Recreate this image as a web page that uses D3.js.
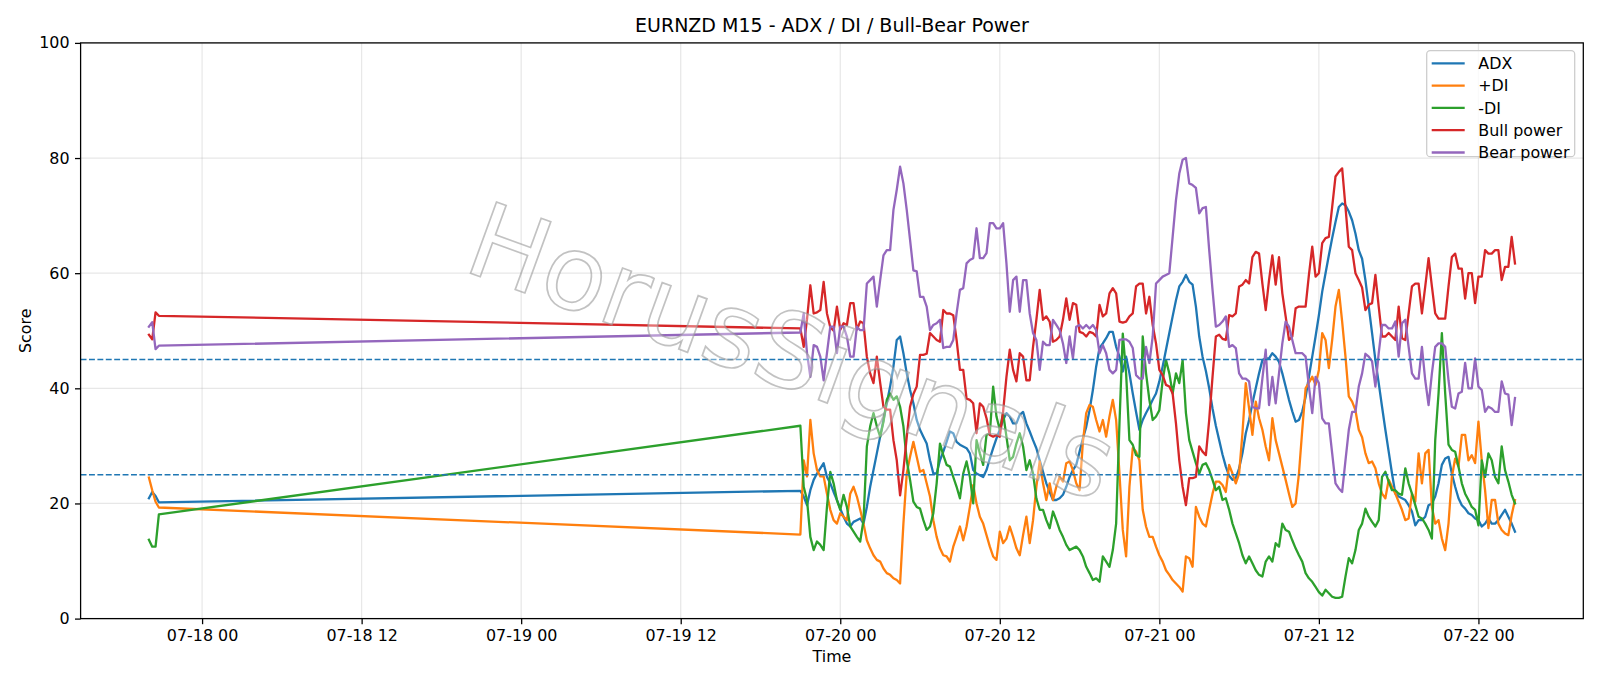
<!DOCTYPE html>
<html>
<head>
<meta charset="utf-8">
<script src="https://cdn.jsdelivr.net/npm/d3@7"></script>
<style>
  body { margin: 0; background: #fff; }
  text { font-family: "DejaVu Sans", sans-serif; }
</style>
</head>
<body>
<div id="chart"></div>
<script>
// M15 candles: Friday close, then Sunday open
const sessions = [
  { start: '2020-07-17T20:00:00Z', bars: 4 },
  { start: '2020-07-19T21:00:00Z', bars: 216 },
];

const adx = [
  20.9, 22.0, 21.3, 20.2,
  22.2, 21.2, 19.7, 22.3, 24.1, 25.2, 26.1, 27.0, 24.6, 23.5,
  22.0, 20.6, 19.1, 17.7, 16.5, 16.0, 16.8, 17.1, 17.4, 16.5,
  19.4, 22.9, 25.8, 28.7, 31.6, 34.5, 37.4, 40.3, 43.8, 48.4,
  49.0, 46.1, 42.6, 39.7, 37.4, 34.5, 32.8, 31.6, 30.4, 27.5,
  25.2, 25.2, 27.5, 29.0, 30.7, 32.5, 32.2, 30.7, 30.2, 29.9,
  29.6, 28.7, 25.8, 25.2, 24.9, 24.6, 25.8, 27.8, 29.6, 31.3,
  32.8, 34.5, 35.7, 35.1, 33.9, 33.9, 35.4, 35.9, 33.9, 32.5,
  31.0, 29.6, 27.5, 25.5, 23.5, 22.0, 20.6, 20.6, 20.9, 21.5,
  22.9, 24.6, 25.8, 26.7, 29.0, 31.3, 33.3, 36.2, 39.7, 43.8,
  47.0, 47.8, 48.7, 49.8, 49.8, 47.2, 45.5, 42.9, 45.5, 42.6,
  39.1, 35.9, 32.8, 34.5, 35.7, 36.8, 38.0, 39.1, 41.2, 43.8,
  46.7, 49.6, 52.5, 55.3, 57.7, 58.5, 59.7, 58.5, 58.0, 54.2,
  49.0, 45.5, 43.0, 40.0, 36.5, 33.5, 31.0, 28.5, 26.4, 24.8,
  24.1, 24.4, 26.1, 28.7, 32.2, 34.5, 37.4, 40.0, 42.6, 44.9,
  45.2, 45.2, 46.1, 45.5, 44.6, 42.6, 40.3, 38.0, 36.0, 34.2,
  34.5, 36.0, 38.5, 42.0, 45.5, 49.0, 52.7, 56.8, 60.0, 63.1,
  66.1, 68.9, 71.5, 72.1, 71.8, 70.7, 69.2, 66.9, 64.0, 62.5,
  58.8, 54.2, 49.6, 44.9, 40.9, 36.8, 32.8, 29.0, 25.2, 21.7,
  21.2, 20.9, 20.6, 19.7, 18.6, 16.2, 17.1, 17.1, 17.7, 19.7,
  20.0, 21.2, 23.5, 26.7, 27.8, 28.1, 25.2, 22.9, 20.9, 19.7,
  19.1, 18.3, 18.0, 17.4, 17.1, 16.0, 16.5, 17.4, 16.5, 16.5,
  17.1, 18.0, 18.9, 17.7, 16.5, 15.1,
];

const plusDi = [
  24.5, 22.3, 20.3, 19.3,
  14.6, 27.5, 24.7, 34.5, 28.7, 25.8, 24.7, 24.7, 21.7, 18.9,
  17.1, 16.5, 18.3, 17.7, 17.1, 21.7, 22.9, 21.2, 18.9, 16.5,
  13.6, 12.2, 11.0, 10.2, 9.9, 8.7, 7.9, 7.6, 7.0, 6.7,
  6.1, 16.5, 25.2, 28.1, 30.7, 28.1, 25.5, 25.8, 23.5, 21.2,
  17.1, 14.2, 12.2, 11.0, 10.8, 9.9, 12.5, 14.2, 16.0, 13.6,
  16.0, 19.4, 23.2, 20.0, 17.7, 16.5, 14.5, 12.5, 10.8, 10.2,
  15.1, 13.1, 13.9, 16.0, 14.2, 12.2, 11.0, 14.5, 17.7, 13.1,
  17.1, 22.9, 27.3, 23.5, 20.6, 23.5, 20.6, 22.9, 24.6, 23.8,
  27.0, 27.3, 25.8, 23.5, 22.3, 30.7, 35.7, 37.1, 36.8, 34.5,
  32.5, 34.5, 31.6, 35.1, 38.0, 34.5, 25.2, 15.4, 10.8, 22.9,
  29.6, 29.0, 27.5, 18.9, 16.0, 14.2, 14.2, 12.5, 11.0, 9.9,
  8.4, 7.6, 6.7, 6.1, 5.5, 4.7, 10.8, 10.5, 9.0, 19.4,
  17.7, 16.5, 16.0, 18.9, 21.7, 23.8, 23.8, 23.2, 22.0, 26.7,
  25.2, 23.5, 25.2, 32.2, 40.9, 36.5, 31.9, 37.7, 34.8, 32.8,
  29.9, 27.5, 34.8, 31.0, 28.7, 26.4, 24.1, 21.7, 19.4, 20.0,
  25.2, 32.8, 40.0, 41.0, 42.0, 40.6, 43.2, 49.6, 48.4, 43.5,
  48.4, 54.2, 57.1, 51.6, 45.5, 38.6, 37.7, 36.2, 32.8, 31.5,
  28.7, 27.0, 27.3, 26.1, 23.5, 21.7, 20.9, 24.1, 22.9, 21.7,
  20.3, 18.9, 17.1, 17.4, 21.7, 20.3, 28.7, 23.5, 28.7, 29.3,
  19.4, 16.5, 17.1, 13.9, 11.9, 16.5, 24.6, 27.8, 26.4, 31.9,
  31.9, 27.5, 28.4, 27.0, 34.2, 27.5, 22.3, 15.7, 20.6, 20.6,
  16.5, 15.4, 14.8, 14.5, 18.0, 20.6,
];

const minusDi = [
  13.7, 12.5, 12.5, 18.1,
  33.5, 22.9, 20.6, 14.2, 11.9, 13.4, 12.8, 11.9, 19.4, 25.5,
  23.5, 20.6, 18.9, 21.5, 19.4, 16.0, 15.1, 14.2, 13.4, 17.1,
  29.9, 33.4, 35.7, 33.4, 31.6, 34.2, 38.0, 39.1, 38.0, 38.6,
  36.8, 33.4, 27.5, 24.1, 20.3, 19.4, 19.1, 17.1, 15.4, 16.0,
  18.3, 23.5, 30.4, 28.4, 26.7, 26.4, 24.6, 22.9, 20.9, 25.2,
  27.3, 24.6, 20.0, 31.0, 28.7, 26.7, 31.9, 32.2, 40.3, 35.1,
  32.8, 35.7, 31.6, 27.5, 28.1, 30.4, 32.2, 29.9, 25.8, 27.5,
  25.2, 20.9, 18.9, 18.9, 17.1, 15.7, 18.6, 17.1, 15.4, 14.2,
  12.8, 11.9, 12.2, 12.5, 11.9, 10.8, 9.0, 7.9, 6.7, 7.0,
  6.4, 10.8, 9.9, 9.0, 11.9, 16.5, 33.9, 49.5, 42.6, 31.0,
  30.2, 28.4, 28.1, 49.0, 42.6, 38.0, 34.5, 35.1, 36.2, 41.4,
  44.9, 42.6, 39.1, 42.6, 40.9, 44.9, 35.7, 31.0, 29.0, 27.0,
  25.2, 26.7, 27.0, 25.8, 24.1, 22.3, 22.9, 20.6, 20.9, 18.9,
  16.5, 14.8, 13.1, 11.0, 9.6, 10.8, 9.6, 8.4, 7.6, 7.3,
  9.9, 10.8, 9.9, 13.1, 12.5, 16.5, 15.4, 15.1, 13.6, 12.2,
  11.0, 9.9, 7.9, 7.0, 6.4, 5.5, 4.6, 4.0, 5.0, 4.4,
  3.8, 3.6, 3.6, 3.8, 7.3, 10.5, 9.6, 11.9, 15.4, 16.5,
  19.1, 17.7, 16.8, 16.0, 17.1, 24.6, 25.5, 23.8, 22.3, 22.3,
  21.7, 21.5, 26.1, 23.5, 21.7, 19.7, 17.7, 17.4, 16.5, 15.4,
  13.9, 31.0, 39.1, 49.6, 39.1, 30.2, 29.3, 29.0, 26.4, 23.5,
  21.7, 20.6, 19.4, 18.9, 16.2, 27.5, 24.6, 28.7, 27.5, 24.6,
  23.5, 29.9, 25.8, 23.8, 21.5, 20.0,
];

const bullPower = [
  49.3, 48.5, 53.2, 52.6,
  50.4, 47.2, 52.0, 57.9, 53.0, 53.2, 53.6, 58.5, 53.0, 50.6,
  50.0, 54.2, 50.2, 51.3, 51.0, 54.8, 54.8, 50.2, 51.6, 51.3,
  45.5, 42.6, 40.9, 45.5, 41.0, 36.8, 36.3, 36.3, 31.0, 27.5,
  21.4, 25.8, 31.5, 36.8, 39.0, 40.3, 45.8, 45.8, 46.0, 49.6,
  49.0, 48.4, 48.1, 53.6, 53.0, 53.0, 52.7, 48.4, 43.2, 43.2,
  38.2, 38.0, 37.4, 32.2, 37.4, 36.8, 34.8, 31.9, 31.6, 31.9,
  31.6, 36.0, 42.0, 46.7, 43.2, 41.2, 46.1, 45.5, 41.4, 41.4,
  47.2, 51.9, 57.1, 51.9, 52.5, 51.6, 48.1, 48.4, 49.0, 51.9,
  55.6, 51.9, 54.8, 54.5, 49.8, 49.6, 49.0, 49.8, 49.6, 49.0,
  54.5, 52.5, 53.0, 56.5, 57.4, 56.5, 51.6, 51.4, 51.6, 52.5,
  53.0, 57.7, 58.2, 58.2, 53.0, 55.9, 51.0, 47.8, 43.2, 42.3,
  40.6, 40.3, 39.1, 33.9, 27.5, 22.9, 19.7, 24.4, 24.4, 24.6,
  29.9, 29.0, 28.4, 34.5, 42.0, 49.0, 49.3, 48.6, 48.4, 52.7,
  52.5, 53.0, 57.7, 58.0, 58.8, 58.2, 62.8, 63.7, 63.4, 58.2,
  53.6, 58.8, 63.1, 58.0, 62.8, 56.5, 52.5, 48.4, 49.0, 53.9,
  54.2, 54.2, 54.2, 59.7, 64.6, 59.4, 60.0, 65.2, 66.1, 66.3,
  71.5, 76.8, 77.6, 78.2, 71.5, 64.6, 64.0, 60.0, 58.8, 57.5,
  53.6, 54.5, 54.8, 59.7, 54.2, 49.0, 49.0, 49.6, 49.0, 48.4,
  54.2, 48.7, 48.4, 53.0, 57.7, 58.2, 58.2, 53.0, 57.7, 62.6,
  57.7, 53.0, 52.1, 52.1, 52.1, 57.7, 62.8, 63.4, 60.8, 60.8,
  55.6, 60.0, 60.0, 54.8, 59.4, 59.4, 64.0, 63.4, 63.4, 64.0,
  64.0, 58.8, 61.1, 61.1, 66.3, 61.7,
];

const bearPower = [
  50.7, 51.5, 46.8, 47.4,
  49.7, 53.0, 46.1, 42.0, 47.5, 47.2, 45.5, 41.4, 46.1, 50.7,
  50.7, 46.1, 50.7, 50.7, 49.0, 45.5, 45.5, 50.7, 50.1, 50.1,
  58.2, 58.8, 59.4, 54.2, 58.8, 63.1, 64.0, 64.0, 71.0, 74.5,
  78.5, 75.6, 71.0, 65.8, 60.5, 60.3, 55.9, 55.9, 54.2, 50.1,
  51.0, 51.3, 51.9, 47.0, 47.2, 47.2, 48.4, 53.0, 57.1, 57.4,
  61.7, 62.3, 62.6, 67.8, 62.6, 62.6, 63.5, 68.7, 68.7, 67.8,
  67.8, 68.7, 61.7, 53.3, 58.8, 59.4, 53.3, 58.8, 58.8, 53.0,
  49.6, 48.4, 43.2, 48.1, 47.5, 47.5, 51.9, 51.0, 50.1, 47.8,
  44.4, 49.0, 45.2, 50.7, 51.0, 50.4, 51.0, 50.4, 51.0, 50.1,
  46.1, 47.5, 46.1, 43.2, 42.6, 43.2, 48.4, 48.5, 48.5, 48.1,
  47.0, 42.3, 41.7, 41.7, 47.2, 44.4, 49.0, 58.2, 58.8, 59.4,
  59.7, 60.0, 66.3, 72.7, 77.3, 79.7, 80.0, 75.6, 75.3, 74.8,
  70.4, 71.3, 71.5, 64.0, 57.1, 50.7, 51.0, 51.6, 52.5, 47.2,
  47.5, 47.0, 42.6, 41.7, 41.7, 41.2, 36.8, 36.5, 36.5, 41.7,
  46.7, 37.1, 42.0, 37.4, 42.6, 47.8, 51.6, 50.7, 48.4, 46.1,
  46.1, 46.1, 45.5, 40.3, 35.7, 42.0, 40.9, 34.8, 33.9, 33.9,
  28.7, 23.5, 22.6, 22.0, 27.5, 32.8, 35.9, 35.9, 40.3, 42.6,
  46.0, 45.5, 44.7, 40.3, 46.1, 51.0, 51.0, 50.4, 50.4, 51.6,
  45.5, 51.3, 51.9, 47.2, 42.6, 41.7, 41.7, 47.2, 41.4, 37.1,
  42.6, 47.2, 47.8, 47.8, 47.2, 41.4, 36.8, 36.5, 39.1, 39.4,
  44.4, 40.0, 40.0, 45.2, 40.3, 39.7, 35.9, 36.8, 36.5, 35.9,
  35.9, 41.2, 39.1, 38.9, 33.6, 38.3,
];

const seriesNames = ['ADX', '+DI', '-DI', 'Bull power', 'Bear power'];
const seriesValues = [adx, plusDi, minusDi, bullPower, bearPower];
const seriesColors = ['#1f77b4', '#ff7f0e', '#2ca02c', '#d62728', '#9467bd'];
const levels = [25, 45];
const yTicks = [0, 20, 40, 60, 80, 100];

const chartTitle = 'EURNZD M15 - ADX / DI / Bull-Bear Power';
const xLabel = 'Time';
const yLabel = 'Score';
const watermark = 'HorusSignals';

class IndicatorChart {
  constructor(containerId) {
    this.containerId = containerId;
    this.width = 1600;
    this.height = 686;
    this.margin = {
      top: 42.9, right: 16.7, bottom: 67.4, left: 80.6,
    };
    this.innerW = this.width - this.margin.left - this.margin.right;
    this.innerH = this.height - this.margin.top - this.margin.bottom;

    const step = 15 * 60 * 1000;
    this.times = [];
    sessions.forEach((s) => {
      const t0 = new Date(s.start).getTime();
      for (let i = 0; i < s.bars; i += 1) this.times.push(new Date(t0 + i * step));
    });

    this.init();
    this.update();
  }

  init() {
    this.svg = d3.select(`#${this.containerId}`)
      .append('svg')
      .attr('width', this.width)
      .attr('height', this.height);

    this.g = this.svg.append('g')
      .attr('transform', `translate(${this.margin.left},${this.margin.top})`);

    // matplotlib-style 5% padding on the time axis
    const [t0, t1] = d3.extent(this.times);
    const pad = (t1 - t0) * 0.05;
    this.x = d3.scaleUtc()
      .domain([new Date(t0.getTime() - pad), new Date(t1.getTime() + pad)])
      .range([0, this.innerW]);

    this.y = d3.scaleLinear()
      .domain([0, 100])
      .range([this.innerH, 0]);

    this.line = d3.line()
      .x((d) => this.x(d[0]))
      .y((d) => this.y(d[1]));
  }

  update() {
    const { g, x, y } = this;
    const xTicks = d3.utcHour.every(12).range(x.domain()[0], x.domain()[1]);

    // grid
    g.append('g').selectAll('line')
      .data(xTicks)
      .enter().append('line')
      .attr('x1', (d) => x(d)).attr('x2', (d) => x(d))
      .attr('y1', 0).attr('y2', this.innerH)
      .attr('stroke', '#b0b0b0').attr('stroke-opacity', 0.3)
      .attr('stroke-width', 1.2);
    g.append('g').selectAll('line')
      .data(yTicks)
      .enter().append('line')
      .attr('x1', 0).attr('x2', this.innerW)
      .attr('y1', (d) => y(d)).attr('y2', (d) => y(d))
      .attr('stroke', '#b0b0b0').attr('stroke-opacity', 0.3)
      .attr('stroke-width', 1.2);

    // axes
    const xAxis = g.append('g')
      .attr('transform', `translate(0,${this.innerH})`)
      .call(d3.axisBottom(x)
        .tickValues(xTicks)
        .tickFormat(d3.utcFormat('%m-%d %H'))
        .tickSize(5.6)
        .tickPadding(5.4));
    const yAxis = g.append('g')
      .call(d3.axisLeft(y)
        .tickValues(yTicks)
        .tickSize(5.6)
        .tickPadding(5.4));
    [xAxis, yAxis].forEach((a) => {
      a.select('.domain').remove();
      a.selectAll('.tick line').attr('stroke', '#000').attr('stroke-width', 1.27);
      a.selectAll('.tick text')
        .attr('fill', '#000')
        .style('font-size', '15.9px')
        .style('font-family', '"DejaVu Sans", sans-serif');
    });

    // series
    seriesValues.forEach((vals, i) => {
      const pts = this.times.map((t, j) => [t, vals[j]]);
      g.append('path')
        .datum(pts)
        .attr('fill', 'none')
        .attr('stroke', seriesColors[i])
        .attr('stroke-width', 2.3)
        .attr('stroke-linejoin', 'round')
        .attr('stroke-linecap', 'square')
        .attr('d', this.line);
    });

    // threshold levels
    g.append('g').selectAll('line')
      .data(levels)
      .enter().append('line')
      .attr('x1', 0).attr('x2', this.innerW)
      .attr('y1', (d) => y(d)).attr('y2', (d) => y(d))
      .attr('stroke', '#1f77b4')
      .attr('stroke-width', 1.6)
      .attr('stroke-dasharray', '5.9,2.5');

    // frame
    g.append('rect')
      .attr('width', this.innerW)
      .attr('height', this.innerH)
      .attr('fill', 'none')
      .attr('stroke', '#000')
      .attr('stroke-width', 1.27);

    // labels
    this.svg.append('text')
      .attr('x', this.margin.left + this.innerW / 2)
      .attr('y', 32)
      .attr('text-anchor', 'middle')
      .style('font-size', '19px')
      .text(chartTitle);
    this.svg.append('text')
      .attr('x', this.margin.left + this.innerW / 2)
      .attr('y', 662)
      .attr('text-anchor', 'middle')
      .style('font-size', '15.9px')
      .text(xLabel);
    this.svg.append('text')
      .attr('transform', `translate(31,${this.margin.top + this.innerH / 2}) rotate(-90)`)
      .attr('text-anchor', 'middle')
      .style('font-size', '15.9px')
      .text(yLabel);

    this.drawLegend();

    // watermark
    this.svg.append('text')
      .attr('transform', 'translate(792,352) rotate(20)')
      .attr('text-anchor', 'middle')
      .attr('dominant-baseline', 'central')
      .style('font-size', '104px')
      .attr('fill', '#fff')
      .attr('fill-opacity', 0.35)
      .attr('stroke', '#999')
      .attr('stroke-opacity', 0.6)
      .attr('stroke-width', 1.7)
      .text(watermark);
  }

  drawLegend() {
    const lx = 1426.7;
    const ly = 50.7;
    const rowH = 22.3;
    const leg = this.svg.append('g');
    leg.append('rect')
      .attr('x', lx).attr('y', ly)
      .attr('width', 148).attr('height', 106)
      .attr('rx', 3.5)
      .attr('fill', '#fff').attr('fill-opacity', 0.8)
      .attr('stroke', '#cccccc').attr('stroke-width', 1.27);
    const rows = leg.selectAll('g.row')
      .data(seriesNames)
      .enter().append('g')
      .attr('class', 'row')
      .attr('transform', (d, i) => `translate(${lx},${ly + 12.6 + i * rowH})`);
    rows.append('line')
      .attr('x1', 5).attr('x2', 38)
      .attr('stroke', (d, i) => seriesColors[i])
      .attr('stroke-width', 2.3);
    rows.append('text')
      .attr('x', 51.6)
      .attr('dy', '0.36em')
      .style('font-size', '15.9px')
      .text((d) => d);
  }
}

new IndicatorChart('chart');
</script>
</body>
</html>
